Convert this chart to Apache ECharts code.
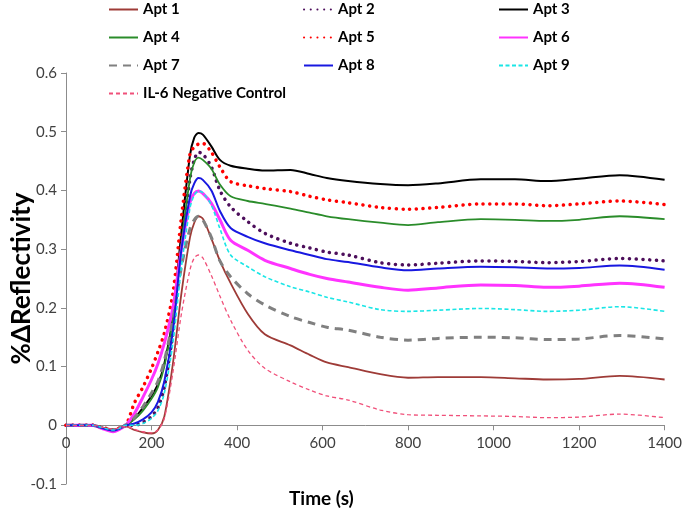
<!DOCTYPE html>
<html>
<head>
<meta charset="utf-8">
<script src="https://cdn.jsdelivr.net/npm/echarts@6/dist/echarts.min.js"></script>
<style>
html,body{margin:0;padding:0;background:#fff;}
#chart{width:685px;height:523px;}
</style>
</head>
<body>
<div id="chart"></div>
<script>
// Time points (s)
const times = [0, 60, 90, 110, 125, 140, 160, 180, 200, 215, 230, 250, 270, 290, 300, 310, 320, 340, 360, 385, 425, 465, 525, 570, 610, 660, 735, 800, 870, 970, 1050, 1125, 1200, 1295, 1400];

const apt1 = [0, 0, -0.005, -0.008, -0.005, -0.002, -0.008, -0.012, -0.014, -0.008, 0.015, 0.105, 0.225, 0.32, 0.345, 0.356, 0.352, 0.318, 0.28, 0.242, 0.19, 0.155, 0.136, 0.12, 0.107, 0.099, 0.087, 0.081, 0.082, 0.082, 0.080, 0.078, 0.079, 0.084, 0.078];
const apt2 = [0, 0, -0.005, -0.008, -0.005, 0, 0, 0.005, 0.015, 0.03, 0.065, 0.16, 0.31, 0.42, 0.452, 0.465, 0.462, 0.44, 0.4, 0.372, 0.347, 0.327, 0.31, 0.302, 0.295, 0.29, 0.277, 0.273, 0.276, 0.280, 0.279, 0.277, 0.279, 0.284, 0.280];
const apt3 = [0, 0, -0.005, -0.008, -0.005, 0, 0.012, 0.03, 0.05, 0.07, 0.105, 0.185, 0.33, 0.46, 0.49, 0.498, 0.495, 0.475, 0.452, 0.442, 0.437, 0.434, 0.435, 0.428, 0.421, 0.416, 0.411, 0.409, 0.412, 0.419, 0.419, 0.416, 0.42, 0.426, 0.418];
const apt4 = [0, 0, -0.005, -0.008, -0.005, 0, 0.01, 0.025, 0.045, 0.065, 0.1, 0.18, 0.31, 0.42, 0.448, 0.456, 0.452, 0.437, 0.41, 0.39, 0.382, 0.377, 0.369, 0.362, 0.356, 0.351, 0.345, 0.341, 0.346, 0.351, 0.350, 0.348, 0.350, 0.356, 0.351];
const apt5 = [0, 0, -0.005, -0.008, -0.005, 0, 0.038, 0.065, 0.097, 0.125, 0.157, 0.225, 0.355, 0.462, 0.474, 0.479, 0.48, 0.465, 0.44, 0.415, 0.408, 0.403, 0.398, 0.39, 0.384, 0.379, 0.371, 0.368, 0.371, 0.377, 0.377, 0.374, 0.377, 0.382, 0.376];
const apt6 = [0, 0, -0.007, -0.011, -0.007, 0, 0.02, 0.048, 0.078, 0.105, 0.14, 0.2, 0.3, 0.38, 0.395, 0.399, 0.395, 0.378, 0.35, 0.315, 0.298, 0.281, 0.267, 0.257, 0.25, 0.244, 0.235, 0.23, 0.234, 0.239, 0.238, 0.235, 0.237, 0.242, 0.235];
const apt7 = [0, 0, -0.005, -0.008, -0.005, 0, 0.013, 0.032, 0.055, 0.075, 0.11, 0.18, 0.27, 0.335, 0.35, 0.356, 0.35, 0.32, 0.28, 0.253, 0.224, 0.205, 0.185, 0.175, 0.167, 0.162, 0.150, 0.145, 0.148, 0.150, 0.149, 0.146, 0.147, 0.153, 0.147];
const apt8 = [0, 0, -0.006, -0.009, -0.006, 0, 0.003, 0.01, 0.022, 0.04, 0.075, 0.16, 0.3, 0.39, 0.412, 0.421, 0.418, 0.4, 0.365, 0.336, 0.321, 0.31, 0.298, 0.29, 0.283, 0.278, 0.269, 0.264, 0.267, 0.270, 0.269, 0.267, 0.268, 0.272, 0.265];
const apt9 = [0, 0, -0.005, -0.008, -0.005, 0, 0, 0.003, 0.012, 0.025, 0.055, 0.14, 0.27, 0.37, 0.392, 0.399, 0.396, 0.375, 0.335, 0.29, 0.27, 0.253, 0.236, 0.227, 0.218, 0.21, 0.197, 0.194, 0.196, 0.199, 0.197, 0.194, 0.196, 0.202, 0.194];
const il6 = [0, 0, -0.004, -0.007, -0.004, -0.002, -0.007, -0.011, -0.013, -0.008, 0.012, 0.09, 0.19, 0.265, 0.285, 0.29, 0.285, 0.255, 0.22, 0.179, 0.128, 0.097, 0.074, 0.06, 0.05, 0.043, 0.026, 0.018, 0.017, 0.016, 0.015, 0.013, 0.014, 0.019, 0.013];

const seriesNames = ['Apt 1', 'Apt 2', 'Apt 3', 'Apt 4', 'Apt 5', 'Apt 6', 'Apt 7', 'Apt 8', 'Apt 9', 'IL-6 Negative Control'];
const seriesValues = [apt1, apt2, apt3, apt4, apt5, apt6, apt7, apt8, apt9, il6];

const xTicks = {min: 0, max: 1400, interval: 200};
const yTicks = {min: -0.1, max: 0.6, interval: 0.1};

const styles = [
  {color: '#9E3B37', width: 1.8, type: 'solid'},
  {color: '#4D0F5C', width: 3.5, type: [0.1, 6.6], cap: 'round'},
  {color: '#000000', width: 2, type: 'solid'},
  {color: '#2A8C2A', width: 1.8, type: 'solid'},
  {color: '#FF0000', width: 3.5, type: [0.1, 6.6], cap: 'round'},
  {color: '#FF33FF', width: 3, type: 'solid'},
  {color: '#808080', width: 3, type: [8, 6]},
  {color: '#1818E0', width: 2, type: 'solid'},
  {color: '#1AE6E6', width: 1.6, type: [4, 2.5]},
  {color: '#F0507A', width: 1.3, type: [4, 3]}
];

const series = seriesNames.map((name, i) => ({
  name: name,
  type: 'line',
  showSymbol: false,
  symbol: 'none',
  smooth: 0.3,
  data: times.map((t, j) => [t, seriesValues[i][j]]),
  itemStyle: {color: styles[i].color},
  lineStyle: {color: styles[i].color, width: styles[i].width, type: styles[i].type, cap: styles[i].cap || 'butt'}
}));

const legendBase = {
  orient: 'vertical',
  top: 2,
  padding: 0,
  itemWidth: 29,
  itemHeight: 14,
  itemGap: 13,
  itemStyle: {opacity: 0, borderWidth: 0},
  textStyle: {fontFamily: 'Lato', fontWeight: 'bold', fontSize: 15, color: '#000'},
  selectedMode: false
};

const chart = echarts.init(document.getElementById('chart'), null, {renderer: 'canvas'});
chart.setOption({
  animation: false,
  backgroundColor: '#fff',
  grid: {left: 66, right: 20, top: 73, bottom: 39, containLabel: false},
  legend: [
    Object.assign({}, legendBase, {left: 108, data: ['Apt 1', 'Apt 4', 'Apt 7', 'IL-6 Negative Control']}),
    Object.assign({}, legendBase, {left: 303, data: ['Apt 2', 'Apt 5', 'Apt 8']}),
    Object.assign({}, legendBase, {left: 498, data: ['Apt 3', 'Apt 6', 'Apt 9']})
  ],
  title: {
    text: 'Time (s)',
    left: 284,
    top: 484,
    textStyle: {fontFamily: 'Lato', fontWeight: 'bold', fontSize: 19, color: '#000'}
  },
  xAxis: {
    type: 'value',
    min: xTicks.min, max: xTicks.max, interval: xTicks.interval,
    axisLine: {show: true, onZero: true, lineStyle: {color: '#8C8C8C', width: 1}},
    axisTick: {show: true, length: 5, lineStyle: {color: '#8C8C8C'}},
    axisLabel: {fontFamily: 'Lato', fontSize: 15, color: '#404040', margin: 10, formatter: v => String(v)},
    splitLine: {show: false}
  },
  yAxis: {
    type: 'value',
    min: yTicks.min, max: yTicks.max, interval: yTicks.interval,
    name: '%\u0394Reflectivity',
    nameLocation: 'middle',
    nameGap: 31,
    nameMoveOverlap: false,
    nameTextStyle: {fontFamily: 'Lato', fontWeight: 'bold', fontSize: 26, color: '#000'},
    axisLine: {show: true, onZero: false, lineStyle: {color: '#8C8C8C', width: 1}},
    axisTick: {show: true, length: 5, lineStyle: {color: '#8C8C8C'}},
    axisLabel: {fontFamily: 'Lato', fontSize: 15, color: '#404040', margin: 9},
    splitLine: {show: false}
  },
  series: series
});

// Place the x axis at y = 0 using the library's own y scale
const yZeroPx = chart.convertToPixel({yAxisIndex: 0}, 0);
const yMinPx = chart.convertToPixel({yAxisIndex: 0}, yTicks.min);
chart.setOption({xAxis: {axisLine: {onZero: false}, offset: yZeroPx - yMinPx}});
</script>
</body>
</html>
